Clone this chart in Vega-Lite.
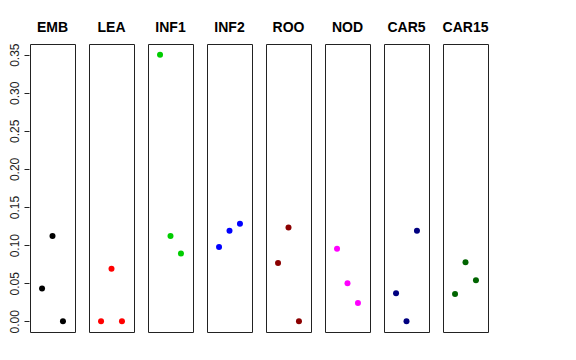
{
  "$schema": "https://vega.github.io/schema/vega-lite/v6.json",
  "background": "white",
  "padding": {"left": 7, "top": 21, "right": 5, "bottom": 5},
  "data": {"values": [
    {"panel": "EMB", "pos": 1, "value": 0.043},
    {"panel": "EMB", "pos": 2, "value": 0.112},
    {"panel": "EMB", "pos": 3, "value": 0.0},
    {"panel": "LEA", "pos": 1, "value": 0.0},
    {"panel": "LEA", "pos": 2, "value": 0.069},
    {"panel": "LEA", "pos": 3, "value": 0.0},
    {"panel": "INF1", "pos": 1, "value": 0.350},
    {"panel": "INF1", "pos": 2, "value": 0.112},
    {"panel": "INF1", "pos": 3, "value": 0.089},
    {"panel": "INF2", "pos": 1, "value": 0.0975},
    {"panel": "INF2", "pos": 2, "value": 0.119},
    {"panel": "INF2", "pos": 3, "value": 0.128},
    {"panel": "ROO", "pos": 1, "value": 0.0765},
    {"panel": "ROO", "pos": 2, "value": 0.123},
    {"panel": "ROO", "pos": 3, "value": 0.0},
    {"panel": "NOD", "pos": 1, "value": 0.0953},
    {"panel": "NOD", "pos": 2, "value": 0.050},
    {"panel": "NOD", "pos": 3, "value": 0.024},
    {"panel": "CAR5", "pos": 1, "value": 0.0367},
    {"panel": "CAR5", "pos": 2, "value": 0.0},
    {"panel": "CAR5", "pos": 3, "value": 0.119},
    {"panel": "CAR15", "pos": 1, "value": 0.036},
    {"panel": "CAR15", "pos": 2, "value": 0.0774},
    {"panel": "CAR15", "pos": 3, "value": 0.0538}
  ]},
  "facet": {
    "column": {
      "field": "panel",
      "type": "nominal",
      "sort": ["EMB", "LEA", "INF1", "INF2", "ROO", "NOD", "CAR5", "CAR15"],
      "header": {
        "title": null,
        "labelFont": "Liberation Sans",
        "labelFontWeight": "bold",
        "labelFontSize": 14,
        "labelColor": "black",
        "labelPadding": 8
      }
    }
  },
  "spacing": 12,
  "spec": {
    "width": 45,
    "height": 288,
    "mark": {"type": "circle", "size": 36, "opacity": 1},
    "encoding": {
      "x": {
        "field": "pos",
        "type": "quantitative",
        "scale": {"domain": [-0.15, 4.15], "nice": false, "zero": false},
        "axis": null
      },
      "y": {
        "field": "value",
        "type": "quantitative",
        "scale": {"domain": [-0.014, 0.364], "nice": false, "zero": false},
        "axis": {
          "title": null,
          "grid": false,
          "domain": false,
          "values": [0, 0.05, 0.1, 0.15, 0.2, 0.25, 0.3, 0.35],
          "format": ".2f",
          "labelAngle": -90,
          "labelAlign": "center",
          "labelBaseline": "bottom",
          "labelFont": "Liberation Sans",
          "labelFontSize": 12,
          "labelColor": "#222",
          "tickColor": "#222",
          "tickSize": 5,
          "labelPadding": 3
        }
      },
      "color": {
        "field": "panel",
        "type": "nominal",
        "scale": {
          "domain": ["EMB", "LEA", "INF1", "INF2", "ROO", "NOD", "CAR5", "CAR15"],
          "range": ["#000000", "#FF0000", "#00CD00", "#0000FF", "#8B0000", "#FF00FF", "#000080", "#006400"]
        },
        "legend": null
      }
    }
  },
  "config": {
    "view": {"stroke": "#222", "strokeWidth": 1}
  }
}
